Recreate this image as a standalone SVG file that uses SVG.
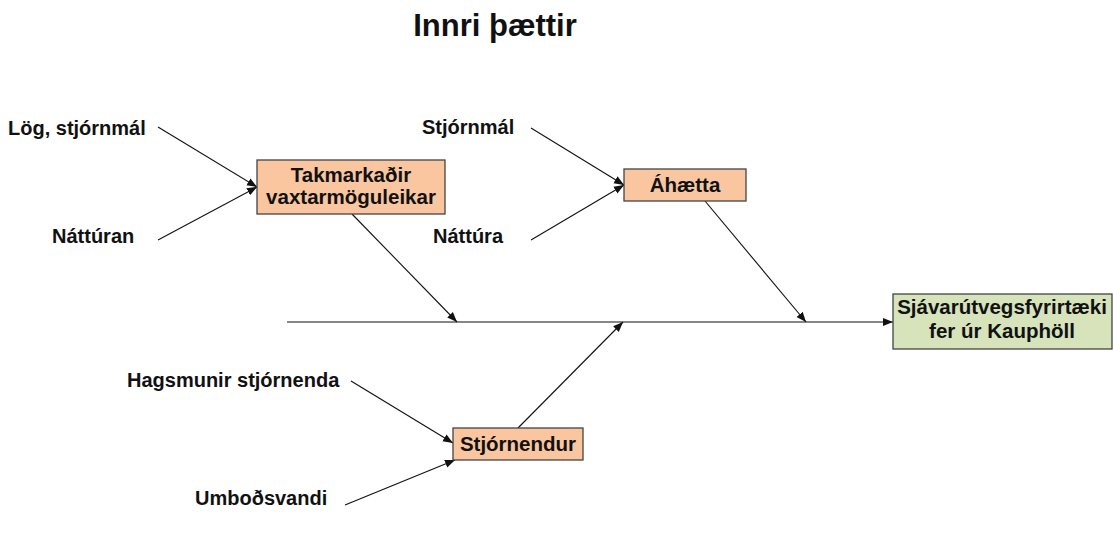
<svg xmlns="http://www.w3.org/2000/svg" width="1113" height="538" viewBox="0 0 1113 538">
<style>
text{font-family:"Liberation Sans",Arial,sans-serif;font-weight:bold;fill:#111}
.lbl{font-size:20px}
.bx{font-size:20.5px;text-anchor:middle}
.peach{fill:#FAC6A0;stroke:#444;stroke-width:1.3}
.green{fill:#D6E3BB;stroke:#444;stroke-width:1.3}
.c{stroke:#111;stroke-width:1.1;fill:none;marker-end:url(#ah)}
</style>
<defs>
<marker id="ah" viewBox="0 0 10 10" refX="10" refY="5" markerWidth="10" markerHeight="10" markerUnits="userSpaceOnUse" orient="auto">
<path d="M0,1 L10,5 L0,9 z" fill="#111"/>
</marker>
</defs>
<rect width="1113" height="538" fill="#fff"/>
<text x="495" y="36" style="font-size:31px" text-anchor="middle">Innri þættir</text>
<g id="connectors">
<line class="c" x1="287" y1="322" x2="893" y2="322"/>
<line class="c" x1="158" y1="127" x2="257" y2="187"/>
<line class="c" x1="158" y1="240" x2="257" y2="187"/>
<line class="c" x1="531" y1="128" x2="624" y2="185"/>
<line class="c" x1="531" y1="240" x2="624" y2="185"/>
<line class="c" x1="351" y1="381" x2="453" y2="443"/>
<line class="c" x1="345" y1="505" x2="455" y2="460"/>
<line class="c" x1="352" y1="214" x2="457" y2="322"/>
<line class="c" x1="705" y1="201" x2="806" y2="322"/>
<line class="c" x1="518" y1="428" x2="623" y2="322"/>
</g>
<g id="lbl-log"><text class="lbl" x="8" y="135">Lög, stjórnmál</text></g>
<g id="lbl-natturan"><text class="lbl" x="52" y="243">Náttúran</text></g>
<g id="lbl-stjornmal"><text class="lbl" x="422" y="134">Stjórnmál</text></g>
<g id="lbl-nattura"><text class="lbl" x="433" y="243">Náttúra</text></g>
<g id="lbl-hagsmunir"><text class="lbl" x="127" y="387">Hagsmunir stjórnenda</text></g>
<g id="lbl-umbod"><text class="lbl" x="195" y="505">Umboðsvandi</text></g>
<g id="node-takmark">
<rect class="peach" x="257" y="160" width="188" height="54"/>
<text class="bx" x="351" y="182">Takmarkaðir</text>
<text class="bx" x="351" y="204">vaxtarmöguleikar</text>
</g>
<g id="node-ahaetta">
<rect class="peach" x="624" y="169" width="122" height="32"/>
<text class="bx" x="685" y="192">Áhætta</text>
</g>
<g id="node-stjornendur">
<rect class="peach" x="453" y="428" width="130" height="32"/>
<text class="bx" x="518" y="451">Stjórnendur</text>
</g>
<g id="node-result">
<rect class="green" x="893" y="294" width="219" height="55"/>
<text class="bx" x="1002" y="314">Sjávarútvegsfyrirtæki</text>
<text class="bx" x="1002" y="338">fer úr Kauphöll</text>
</g>
</svg>
